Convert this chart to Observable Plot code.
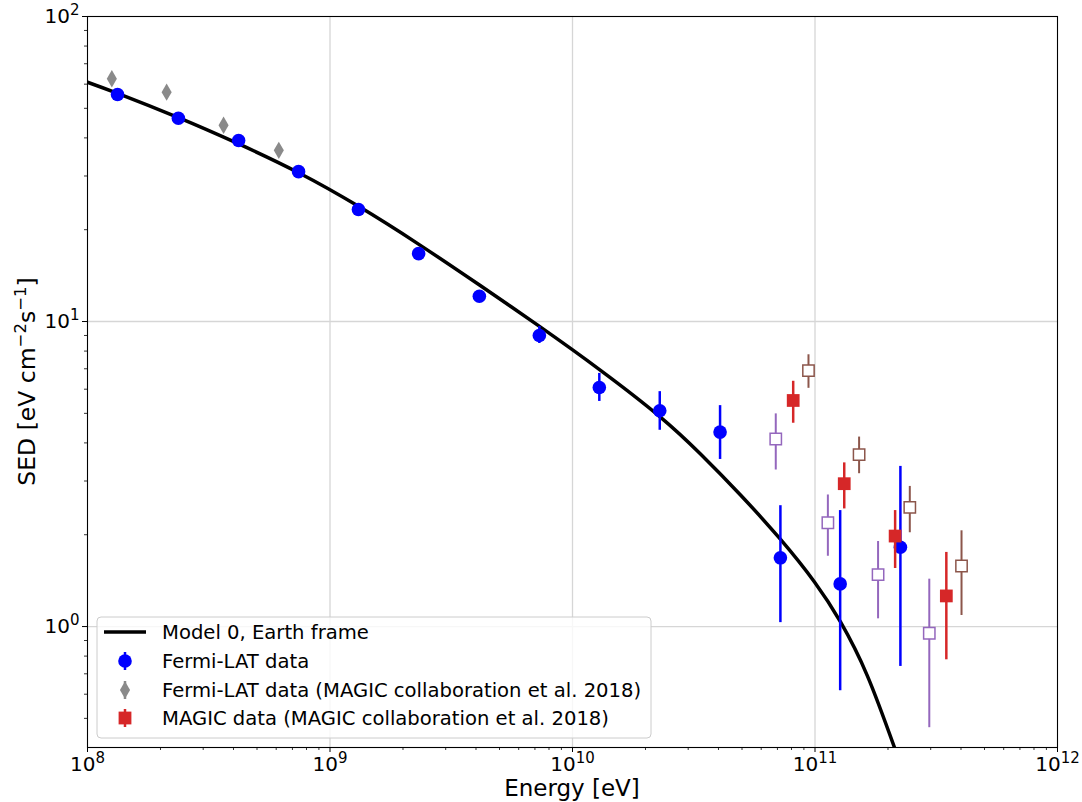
<!DOCTYPE html>
<html>
<head>
<meta charset="utf-8">
<script src="https://cdn.jsdelivr.net/npm/d3@7"></script>
<script src="https://cdn.jsdelivr.net/npm/@observablehq/plot@0.6"></script>
<style>
  body { margin: 0; background: #fff; font-family: "DejaVu Sans", sans-serif; }
  #chart { width: 1082px; height: 802px; }
</style>
</head>
<body>
<div id="chart"></div>
<script>
// ---- Model curve ----
const modelE   = [1e8, 1.339e8, 2.358e8, 4.182e8, 7.39e8, 1.311e9, 2.317e9, 4.135e9, 7.31e9, 1.305e10, 2.284e10, 3.372e10, 4.93e10, 7.21e10, 9.95e10, 1.274e11, 1.646e11, 2.147e11];
const modelSED = [60.9, 55.87, 46.69, 38.28, 30.80, 23.86, 17.94, 13.17, 9.64, 6.92, 4.89, 3.68, 2.70, 1.93, 1.40, 1.035, 0.688, 0.393];

// ---- Fermi-LAT data ----
const fermiE   = [1.33e8, 2.37e8, 4.2e8, 7.42e8, 1.31e9, 2.32e9, 4.13e9, 7.3e9, 1.29e10, 2.29e10, 4.06e10, 7.2e10, 1.27e11, 2.25e11];
const fermiSED = [55.5, 46.4, 39.2, 31.0, 23.3, 16.7, 12.1, 9.0, 6.08, 5.10, 4.34, 1.68, 1.38, 1.82];
const fermiLo  = [54.5, 45.6, 38.5, 30.4, 22.8, 16.3, 11.8, 8.47, 5.47, 4.40, 3.53, 1.03, 0.616, 0.74];
const fermiHi  = [56.5, 47.2, 39.9, 31.6, 23.8, 17.1, 12.4, 9.63, 6.76, 5.89, 5.30, 2.49, 2.40, 3.35];

// ---- Fermi-LAT data (MAGIC collaboration et al. 2018) ----
const magFermiE   = [1.26e8, 2.12e8, 3.64e8, 6.15e8];
const magFermiSED = [62.5, 56.5, 44.0, 36.4];

// ---- MAGIC data (MAGIC collaboration et al. 2018) ----
const magicE   = [8.13e10, 1.32e11, 2.14e11, 3.48e11];
const magicSED = [5.51, 2.94, 1.98, 1.26];
const magicLo  = [4.64, 2.43, 1.55, 0.778];
const magicHi  = [6.37, 3.44, 2.40, 1.75];

// ---- unlabeled open squares ----
const purpleE   = [6.89e10, 1.13e11, 1.82e11, 2.96e11];
const purpleSED = [4.12, 2.19, 1.48, 0.951];
const purpleLo  = [3.26, 1.70, 1.06, 0.466];
const purpleHi  = [4.98, 2.70, 1.90, 1.43];

const brownE   = [9.4e10, 1.52e11, 2.46e11, 4.02e11];
const brownSED = [6.90, 3.66, 2.46, 1.58];
const brownLo  = [6.04, 3.17, 2.03, 1.087];
const brownHi  = [7.78, 4.18, 2.88, 2.06];

// ---- ticks ----
const xMajor = [1e8, 1e9, 1e10, 1e11, 1e12];
const yMajor = [1, 10, 100];
const xDomain = [1e8, 1e12];
const yDomain = [0.4013, 100];

const legendLabels = ["Model 0, Earth frame", "Fermi-LAT data", "Fermi-LAT data (MAGIC collaboration et al. 2018)", "MAGIC data (MAGIC collaboration et al. 2018)"];

// build tables
const model = modelE.map((e, i) => ({e, s: modelSED[i]}));
const fermi = fermiE.map((e, i) => ({e, s: fermiSED[i], lo: fermiLo[i], hi: fermiHi[i]}));
const magFermi = magFermiE.map((e, i) => ({e, s: magFermiSED[i]}));
const magic = magicE.map((e, i) => ({e, s: magicSED[i], lo: magicLo[i], hi: magicHi[i]}));
const purple = purpleE.map((e, i) => ({e, s: purpleSED[i], lo: purpleLo[i], hi: purpleHi[i]}));
const brown = brownE.map((e, i) => ({e, s: brownSED[i], lo: brownLo[i], hi: brownHi[i]}));

const minorX = [];
for (let p = 8; p < 12; p++) for (let k = 2; k <= 9; k++) minorX.push(k * 10 ** p);
const minorY = [];
for (let p = -1; p < 2; p++) for (let k = 2; k <= 9; k++) { const v = k * 10 ** p; if (v >= yDomain[0] && v <= yDomain[1]) minorY.push(v); }

const expFmt = d => String(Math.round(Math.log10(d)));
const gridCol = "#d6d6d6";

const svg = Plot.plot({
  width: 1082, height: 802,
  marginLeft: 87, marginRight: 25, marginTop: 16, marginBottom: 55,
  style: {fontFamily: "DejaVu Sans, sans-serif", fontSize: "20px", background: "white", color: "black"},
  x: {type: "log", domain: xDomain},
  y: {type: "log", domain: yDomain},
  marks: [
    Plot.gridX(xMajor.slice(1, -1), {stroke: gridCol, strokeOpacity: 1, strokeWidth: 1.3}),
    Plot.gridY(yMajor.slice(0, -1), {stroke: gridCol, strokeOpacity: 1, strokeWidth: 1.3}),
    Plot.axisX(minorX, {tickSize: 3, tickFormat: () => "", label: null, strokeWidth: 0.8}),
    Plot.axisY(minorY, {tickSize: 3, tickFormat: () => "", label: null, strokeWidth: 0.8}),
    Plot.axisX(xMajor, {tickSize: 5, tickPadding: 4, tickFormat: expFmt, label: null, fontSize: 20}),
    Plot.axisY(yMajor, {tickSize: 5, tickPadding: 3, tickFormat: expFmt, label: null, fontSize: 20}),
    Plot.line(model, {x: "e", y: "s", stroke: "black", strokeWidth: 3.5, curve: "natural", clip: true}),
    Plot.ruleX(fermi, {x: "e", y1: "lo", y2: "hi", stroke: "blue", strokeWidth: 2.5}),
    Plot.dot(fermi, {x: "e", y: "s", r: 6.8, fill: "blue"}),
    Plot.dot(magFermi, {x: "e", y: "s", symbol: "diamond", r: 5.3, fill: "#8a8a8a"}),
    Plot.ruleX(magic, {x: "e", y1: "lo", y2: "hi", stroke: "#d62728", strokeWidth: 2.5}),
    Plot.dot(magic, {x: "e", y: "s", symbol: "square", r: 7.2, fill: "#d62728"}),
    Plot.ruleX(purple, {x: "e", y1: "lo", y2: "hi", stroke: "#9467bd", strokeWidth: 2}),
    Plot.dot(purple, {x: "e", y: "s", symbol: "square", r: 6.4, fill: "white", stroke: "#9467bd", strokeWidth: 1.5}),
    Plot.ruleX(brown, {x: "e", y1: "lo", y2: "hi", stroke: "#8c564b", strokeWidth: 2}),
    Plot.dot(brown, {x: "e", y: "s", symbol: "square", r: 6.4, fill: "white", stroke: "#8c564b", strokeWidth: 1.5}),
    Plot.frame({stroke: "black", strokeWidth: 1.1})
  ]
});

// superscript tick labels: 10^n
d3.select(svg).selectAll("g[aria-label='x-axis tick label'] text, g[aria-label='y-axis tick label'] text").each(function() {
  const t = this.textContent;
  if (!t) return;
  const sel = d3.select(this);
  sel.text("");
  sel.append("tspan").text("10");
  sel.append("tspan").attr("font-size", 15).attr("dy", -8).text(t);
});

const s = d3.select(svg);
// axis labels
s.append("text").attr("x", 572).attr("y", 796).attr("text-anchor", "middle")
  .attr("font-size", 23).attr("fill", "black").text("Energy [eV]");
const yl = s.append("text").attr("transform", "translate(35,381.5) rotate(-90)")
  .attr("text-anchor", "middle").attr("font-size", 23.5).attr("fill", "black");
yl.append("tspan").text("SED [eV cm");
yl.append("tspan").attr("font-size", 16.5).attr("dy", -9.5).text("\u22122");
yl.append("tspan").attr("dy", 9.5).text("s");
yl.append("tspan").attr("font-size", 16.5).attr("dy", -9.5).text("\u22121");
yl.append("tspan").attr("dy", 9.5).text("]");

// legend
const lg = s.append("g").attr("font-size", 19.6).attr("fill", "black").attr("text-anchor", "start");
lg.append("rect").attr("x", 97).attr("y", 617).attr("width", 554).attr("height", 121).attr("rx", 4)
  .attr("fill", "white").attr("fill-opacity", 0.8).attr("stroke", "#cccccc").attr("stroke-width", 1);
const rowY = [632, 661, 690, 718];
lg.append("line").attr("x1", 104).attr("x2", 146).attr("y1", rowY[0]).attr("y2", rowY[0]).attr("stroke", "black").attr("stroke-width", 3.5);
// Fermi
lg.append("line").attr("x1", 125).attr("x2", 125).attr("y1", rowY[1] - 9).attr("y2", rowY[1] + 9).attr("stroke", "blue").attr("stroke-width", 2.5);
lg.append("circle").attr("cx", 125).attr("cy", rowY[1]).attr("r", 6.8).attr("fill", "blue");
// gray diamond
lg.append("line").attr("x1", 125).attr("x2", 125).attr("y1", rowY[2] - 9).attr("y2", rowY[2] + 9).attr("stroke", "#8a8a8a").attr("stroke-width", 2.5);
lg.append("path").attr("d", d3.symbol(d3.symbolDiamond, Math.PI * 5.3 * 5.3)()).attr("transform", `translate(125,${rowY[2]})`).attr("fill", "#8a8a8a");
// red square
lg.append("line").attr("x1", 125).attr("x2", 125).attr("y1", rowY[3] - 9).attr("y2", rowY[3] + 9).attr("stroke", "#d62728").attr("stroke-width", 2.5);
lg.append("rect").attr("x", 125 - 6.4).attr("y", rowY[3] - 6.4).attr("width", 12.8).attr("height", 12.8).attr("fill", "#d62728");
legendLabels.forEach((t, i) => {
  lg.append("text").attr("x", 162).attr("y", rowY[i] + 7).attr("text-anchor", "start").text(t);
});

document.getElementById("chart").appendChild(svg);
</script>
</body>
</html>
